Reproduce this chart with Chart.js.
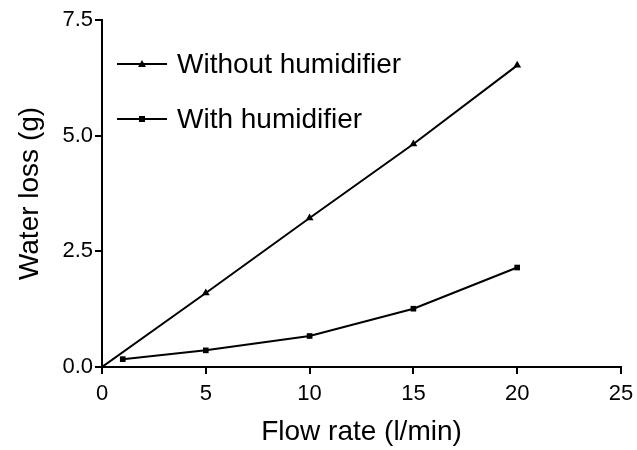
<!DOCTYPE html>
<html>
<head>
<meta charset="utf-8">
<script src="https://cdn.jsdelivr.net/npm/chart.js@4.4.1/dist/chart.umd.min.js"></script>
<style>
  html, body { margin: 0; padding: 0; background: #fff; }
  #wrap { width: 637px; height: 450px; }
</style>
</head>
<body>
<div id="wrap"><canvas id="lossChart" width="637" height="450"></canvas></div>
<script>
// Data
const seriesNames = ['Without humidifier', 'With humidifier'];
const flowWithout = [0, 5, 10, 15, 20];
const lossWithout = [0, 1.6, 3.22, 4.82, 6.52];
const flowWith = [1, 5, 10, 15, 20];
const lossWith = [0.17, 0.36, 0.67, 1.26, 2.15];
const xTicks = [0, 5, 10, 15, 20, 25];
const yTicks = [0, 2.5, 5.0, 7.5];

const FONT = '"Liberation Sans", Arial, Helvetica, sans-serif';

function toPoints(xs, ys) {
  return xs.map((x, i) => ({ x: x, y: ys[i] }));
}

// Legend drawn inside the plot, top-left
const insideLegend = {
  id: 'insideLegend',
  afterDraw(chart) {
    const c = chart.ctx;
    const area = chart.chartArea;
    chart.data.datasets.forEach((ds, i) => {
      const y = area.top + 44 + i * 55;
      const x0 = area.left + 15;
      c.save();
      c.strokeStyle = '#000';
      c.lineWidth = 2;
      c.beginPath();
      c.moveTo(x0, y);
      c.lineTo(x0 + 50, y);
      c.stroke();
      c.fillStyle = '#000';
      const mx = x0 + 25;
      if (ds.pointStyle === 'triangle') {
        c.beginPath();
        c.moveTo(mx, y - 4);
        c.lineTo(mx + 4, y + 3);
        c.lineTo(mx - 4, y + 3);
        c.closePath();
        c.fill();
      } else {
        c.fillRect(mx - 3, y - 3, 6, 6);
      }
      c.font = '28px ' + FONT;
      c.textBaseline = 'middle';
      c.fillText(ds.label, x0 + 60, y + 1);
      c.restore();
    });
  }
};

new Chart(document.getElementById('lossChart'), {
  type: 'scatter',
  data: {
    datasets: [
      {
        label: seriesNames[0],
        data: toPoints(flowWithout, lossWithout),
        showLine: true,
        borderColor: '#000',
        backgroundColor: '#000',
        borderWidth: 2,
        pointStyle: 'triangle',
        pointRadius: 4.5,
        pointBorderWidth: 0
      },
      {
        label: seriesNames[1],
        data: toPoints(flowWith, lossWith),
        showLine: true,
        borderColor: '#000',
        backgroundColor: '#000',
        borderWidth: 2,
        pointStyle: 'rect',
        pointRadius: 4,
        pointBorderWidth: 0
      }
    ]
  },
  options: {
    responsive: false,
    animation: false,
    layout: { padding: { left: 0, top: 20, right: 16, bottom: 0 } },
    plugins: {
      legend: { display: false },
      tooltip: { enabled: false }
    },
    scales: {
      x: {
        type: 'linear',
        min: 0,
        max: 25,
        afterFit(scale) { scale.height = 83; scale.paddingRight = 0; },
        afterBuildTicks(scale) { scale.ticks = xTicks.map(v => ({ value: v })); },
        border: { display: true, color: '#000', width: 2 },
        grid: { display: true, drawOnChartArea: false, color: '#000', lineWidth: 2, tickLength: 7 },
        ticks: { color: '#000', font: { family: FONT, size: 22 }, padding: 7 },
        title: {
          display: true,
          text: 'Flow rate (l/min)',
          color: '#000',
          font: { family: FONT, size: 28 },
          padding: { top: 1, bottom: 1 }
        }
      },
      y: {
        type: 'linear',
        min: 0,
        max: 7.5,
        afterFit(scale) { scale.width = 102; },
        afterBuildTicks(scale) { scale.ticks = yTicks.map(v => ({ value: v })); },
        border: { display: true, color: '#000', width: 2 },
        grid: { display: true, drawOnChartArea: false, color: '#000', lineWidth: 2, tickLength: 7 },
        ticks: {
          color: '#000',
          font: { family: FONT, size: 22 },
          padding: 2,
          callback: v => v.toFixed(1)
        },
        title: {
          display: true,
          text: 'Water loss (g)',
          color: '#000',
          font: { family: FONT, size: 28 },
          padding: { top: 13, bottom: 13 }
        }
      }
    }
  },
  plugins: [insideLegend]
});
</script>
</body>
</html>
